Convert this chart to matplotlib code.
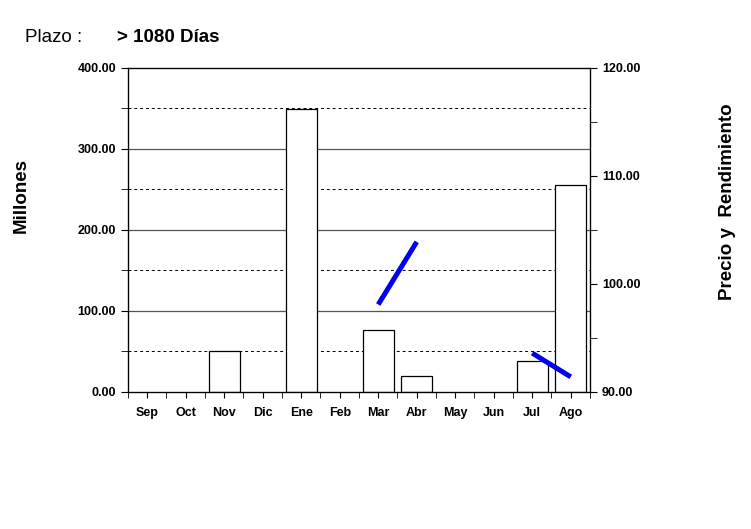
import numpy as np
import matplotlib.pyplot as plt
from matplotlib.ticker import MultipleLocator, FormatStrFormatter

plt.rcParams['font.family'] = ['Liberation Sans', 'DejaVu Sans']

# monthly data
meses = ['Sep', 'Oct', 'Nov', 'Dic', 'Ene', 'Feb', 'Mar', 'Abr', 'May', 'Jun', 'Jul', 'Ago']
montos = [0, 0, 50, 0, 349, 0, 77, 19.5, 0, 0, 38, 255.5]
precios = [np.nan, np.nan, np.nan, np.nan, np.nan, np.nan, 98.1, 103.9, np.nan, np.nan, 93.6, 91.4]

fig = plt.figure(figsize=(7.51, 5.29), dpi=100)
ax = fig.add_axes([0.1704, 0.259, 0.6152, 0.6125])
x = np.arange(len(meses))

# horizontal grid: solid at 100s, dashed at the 50s
for y in [100, 200, 300]:
    ax.axhline(y, color='#555555', lw=0.9, zorder=0)
for y in [50, 150, 250, 350]:
    ax.axhline(y, color='black', lw=0.7, ls=(0, (3, 3)), zorder=0)

# only months with volume get a bar
m = np.array(montos)
sel = m > 0
ax.bar(x[sel], m[sel], width=0.8, facecolor='white', edgecolor='black', lw=0.9, zorder=2)
ax.set_xlim(-0.5, 11.5)
ax.set_ylim(0, 400)
ax.set_xticks(x)
ax.set_xticklabels(meses, fontsize=9, fontweight='bold')
ax.set_xticks(np.arange(-0.5, 12, 1), minor=True)
ax.tick_params(axis='x', which='major', length=4, pad=7)
ax.tick_params(axis='x', which='minor', length=4)
ax.yaxis.set_major_locator(MultipleLocator(100))
ax.yaxis.set_major_formatter(FormatStrFormatter('%.2f'))
ax.yaxis.set_minor_locator(MultipleLocator(50))
ax.tick_params(axis='y', which='major', length=5, labelsize=9)
ax.tick_params(axis='y', which='minor', length=5)
for lbl in ax.get_yticklabels():
    lbl.set_fontweight('bold')
ax.set_ylabel('Millones', fontsize=13.5, fontweight='bold')
ax.yaxis.set_label_coords(-0.212, 0.605)
for s in ax.spines.values():
    s.set_linewidth(0.9)

ax2 = ax.twinx()
ax2.plot(x, precios, color='#0000ee', lw=3.6, solid_capstyle='butt', zorder=3)
ax2.set_ylim(90, 120)
ax2.yaxis.set_major_locator(MultipleLocator(10))
ax2.yaxis.set_major_formatter(FormatStrFormatter('%.2f'))
ax2.yaxis.set_minor_locator(MultipleLocator(5))
ax2.tick_params(axis='y', which='major', length=5, labelsize=9)
ax2.tick_params(axis='y', which='minor', length=5)
for lbl in ax2.get_yticklabels():
    lbl.set_fontweight('bold')
ax2.set_ylabel('Precio y  Rendimiento', fontsize=13.5, fontweight='bold')
ax2.yaxis.set_label_coords(1.279, 0.586)

fig.text(0.033, 0.921, 'Plazo :', fontsize=13.5)
fig.text(0.156, 0.921, '> 1080 Días', fontsize=13.5, fontweight='bold')

fig.savefig('out.png', dpi=100)
